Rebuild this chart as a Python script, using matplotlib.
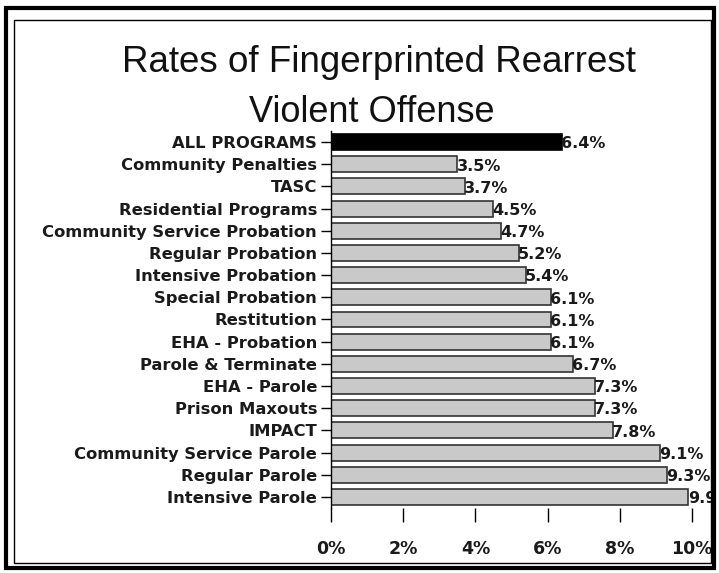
import matplotlib.pyplot as plt
from matplotlib.patches import Rectangle

plt.rcParams['font.family'] = ['DejaVu Sans']

programs = ['ALL PROGRAMS', 'Community Penalties', 'TASC', 'Residential Programs',
            'Community Service Probation', 'Regular Probation', 'Intensive Probation',
            'Special Probation', 'Restitution', 'EHA - Probation', 'Parole & Terminate',
            'EHA - Parole', 'Prison Maxouts', 'IMPACT', 'Community Service Parole',
            'Regular Parole', 'Intensive Parole']
rates = [6.4, 3.5, 3.7, 4.5, 4.7, 5.2, 5.4, 6.1, 6.1, 6.1, 6.7, 7.3, 7.3, 7.8, 9.1, 9.3, 9.9]
xticks = [0, 2, 4, 6, 8, 10]

W, H = 719, 573
fig = plt.figure(figsize=(W / 100, H / 100), dpi=100)
ax = fig.add_axes([331 / W, 65 / H, 361 / W, 377 / H])

colors = ['black'] + ['#c9c9c9'] * (len(rates) - 1)
edges = ['black'] + ['#333333'] * (len(rates) - 1)
ypos = list(range(len(programs)))
ax.barh(ypos, rates, height=0.72, color=colors, edgecolor=edges, linewidth=1.2)
ax.set_ylim(len(programs) - 0.5, -0.5)
ax.set_xlim(0, 10)

ax.set_yticks(ypos)
ax.set_yticklabels(programs, fontsize=11.8, fontweight='bold', color='#1a1a1a')
ax.set_xticks(xticks)
ax.set_xticklabels([f'{t}%' for t in xticks], fontsize=12.5, fontweight='bold', color='#1a1a1a')
ax.tick_params(axis='y', length=7, width=1, pad=3)
ax.tick_params(axis='x', length=10, width=1, pad=13, direction='out')

for s in ['top', 'right', 'bottom']:
    ax.spines[s].set_visible(False)
ax.spines['left'].set_linewidth(1)

# value labels, cut by the inner frame like the original
clip = Rectangle((14 / W, 10 / H), 697 / W, 543 / H, transform=fig.transFigure, visible=False)
fig.add_artist(clip)
for y, v in zip(ypos, rates):
    t = ax.text(v - 0.02, y + 0.08, f'{v}%', va='center', ha='left', fontsize=11.5,
                fontweight='bold', color='#1a1a1a', clip_on=True)
    t.set_clip_path(clip)

fig.text(379 / W, 1 - 62 / H, 'Rates of Fingerprinted Rearrest', ha='center', va='center',
         fontsize=26.5, family='Liberation Sans', color='#111111')
fig.text(372 / W, 1 - 113 / H, 'Violent Offense', ha='center', va='center',
         fontsize=26, family='Liberation Sans', color='#111111')

# double border
fig.add_artist(Rectangle((6 / W, 5 / H), 708 / W, 560 / H, transform=fig.transFigure,
                         fill=False, lw=3, edgecolor='black'))
fig.add_artist(Rectangle((14 / W, 10 / H), 697 / W, 543 / H, transform=fig.transFigure,
                         fill=False, lw=1, edgecolor='black'))

fig.savefig('out.png', dpi=100)
